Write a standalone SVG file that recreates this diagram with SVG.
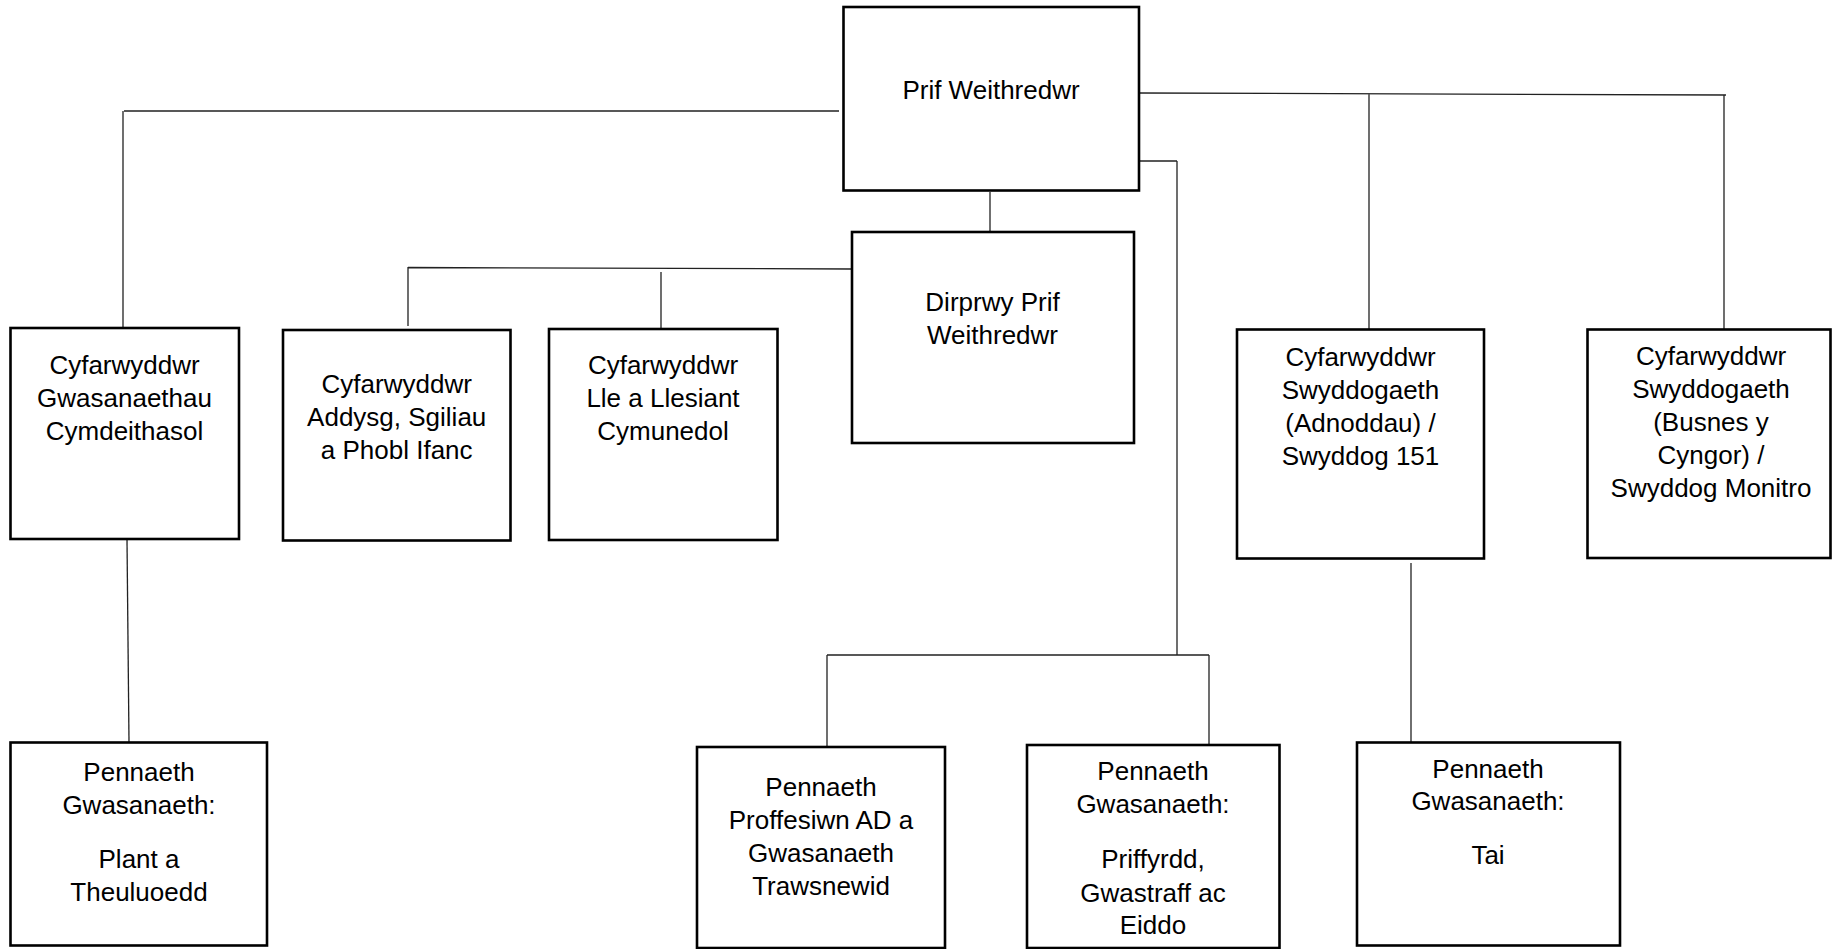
<svg xmlns="http://www.w3.org/2000/svg" width="1832" height="949" viewBox="0 0 1832 949">
<style>
.box{fill:#fff;stroke:#000;stroke-width:2.6}
.lbl{font-family:"Liberation Sans",Arial,sans-serif;font-size:26px;fill:#000;text-anchor:middle}
.con{fill:none;stroke:#222;stroke-width:1.3}
</style>
<rect width="1832" height="949" fill="#fff"/>
<g id="connectors">
<path class="con" d="M839,111 L124,111 M123,111 L123,328"/>
<path class="con" d="M851,269 L408,267.5 M408,267 L408,326 M661,272 L661,329"/>
<path class="con" d="M1139,93 L1726,95 M1369,93.5 L1369,329 M1724,95 L1724,329"/>
<path class="con" d="M1139,161 L1177,161 M1177,161 L1177,655"/>
<path class="con" d="M827,655 L1209,655 M827,655 L827,747 M1209,655 L1209,745"/>
<path class="con" d="M990,192 L990,233"/>
<path class="con" d="M127,540 L129,742"/>
<path class="con" d="M1411,563 L1411,742"/>
</g>
<g id="prif">
<rect class="box" x="843.5" y="7" width="295.5" height="183.5"/>
<text class="lbl" x="991" y="99">Prif Weithredwr</text>
</g>
<g id="dirprwy">
<rect class="box" x="852" y="232" width="282" height="211"/>
<text class="lbl" x="992.5" y="311">Dirprwy Prif</text>
<text class="lbl" x="992.5" y="344">Weithredwr</text>
</g>
<g id="gwasanaethau">
<rect class="box" x="10.5" y="328" width="228.5" height="211"/>
<text class="lbl" x="124.5" y="374">Cyfarwyddwr</text>
<text class="lbl" x="124.5" y="407">Gwasanaethau</text>
<text class="lbl" x="124.5" y="440">Cymdeithasol</text>
</g>
<g id="addysg">
<rect class="box" x="283" y="330" width="227.5" height="210.5"/>
<text class="lbl" x="396.7" y="393">Cyfarwyddwr</text>
<text class="lbl" x="396.7" y="426">Addysg, Sgiliau</text>
<text class="lbl" x="396.7" y="459">a Phobl Ifanc</text>
</g>
<g id="lle">
<rect class="box" x="549" y="329" width="228.5" height="211"/>
<text class="lbl" x="663" y="374">Cyfarwyddwr</text>
<text class="lbl" x="663" y="407">Lle a Llesiant</text>
<text class="lbl" x="663" y="440">Cymunedol</text>
</g>
<g id="adnoddau">
<rect class="box" x="1237" y="329.5" width="247" height="229"/>
<text class="lbl" x="1360.5" y="366">Cyfarwyddwr</text>
<text class="lbl" x="1360.5" y="399">Swyddogaeth</text>
<text class="lbl" x="1360.5" y="432">(Adnoddau) /</text>
<text class="lbl" x="1360.5" y="465">Swyddog 151</text>
</g>
<g id="busnes">
<rect class="box" x="1587.5" y="329.5" width="243" height="228.5"/>
<text class="lbl" x="1711" y="365">Cyfarwyddwr</text>
<text class="lbl" x="1711" y="398">Swyddogaeth</text>
<text class="lbl" x="1711" y="431">(Busnes y</text>
<text class="lbl" x="1711" y="464">Cyngor) /</text>
<text class="lbl" x="1711" y="497">Swyddog Monitro</text>
</g>
<g id="plant">
<rect class="box" x="10.5" y="742.5" width="256.5" height="203"/>
<text class="lbl" x="139" y="781">Pennaeth</text>
<text class="lbl" x="139" y="814">Gwasanaeth:</text>
<text class="lbl" x="139" y="868">Plant a</text>
<text class="lbl" x="139" y="901">Theuluoedd</text>
</g>
<g id="proffesiwn">
<rect class="box" x="697" y="747" width="248" height="201"/>
<text class="lbl" x="821" y="796">Pennaeth</text>
<text class="lbl" x="821" y="829">Proffesiwn AD a</text>
<text class="lbl" x="821" y="862">Gwasanaeth</text>
<text class="lbl" x="821" y="895">Trawsnewid</text>
</g>
<g id="priffyrdd">
<rect class="box" x="1027" y="745" width="252.5" height="203"/>
<text class="lbl" x="1153" y="780">Pennaeth</text>
<text class="lbl" x="1153" y="813">Gwasanaeth:</text>
<text class="lbl" x="1153" y="868">Priffyrdd,</text>
<text class="lbl" x="1153" y="902">Gwastraff ac</text>
<text class="lbl" x="1153" y="934">Eiddo</text>
</g>
<g id="tai">
<rect class="box" x="1357" y="742.5" width="263" height="203"/>
<text class="lbl" x="1488" y="778">Pennaeth</text>
<text class="lbl" x="1488" y="810">Gwasanaeth:</text>
<text class="lbl" x="1488" y="864">Tai</text>
</g>
</svg>
